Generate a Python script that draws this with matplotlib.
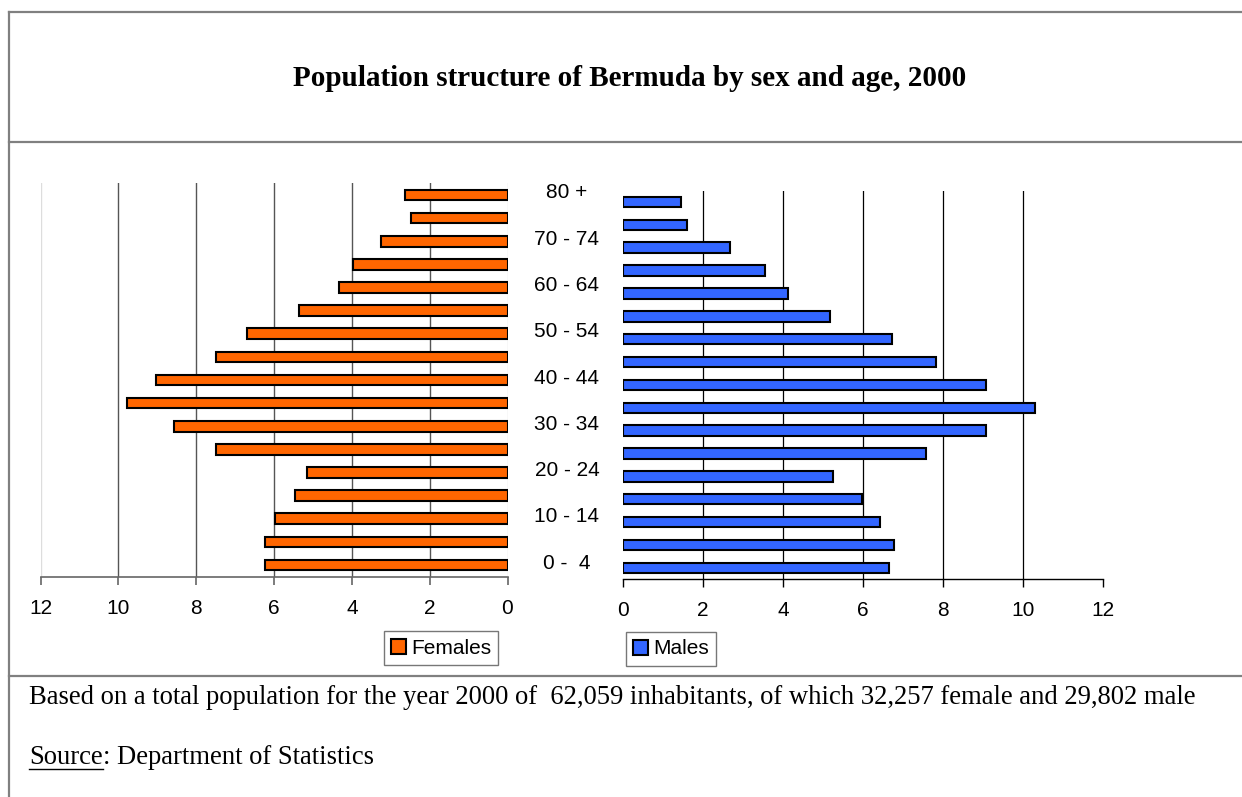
import matplotlib
matplotlib.use("Agg")
import matplotlib.pyplot as plt
import matplotlib.transforms as mtransforms
from matplotlib.lines import Line2D
from matplotlib.patches import Patch

# ---------------- data ----------------
age_groups = ["0 -  4", "5 - 9", "10 - 14", "15 - 19", "20 - 24", "25 - 29",
              "30 - 34", "35 - 39", "40 - 44", "45 - 49", "50 - 54", "55 - 59",
              "60 - 64", "65 - 69", "70 - 74", "75 - 79", "80 +"]
females = [6.24, 6.24, 5.98, 5.47, 5.16, 7.48, 8.56, 9.78, 9.02, 7.48,
           6.70, 5.37, 4.34, 3.98, 3.26, 2.49, 2.64]
males = [6.65, 6.77, 6.41, 5.97, 5.24, 7.56, 9.08, 10.31, 9.08, 7.83,
         6.71, 5.18, 4.13, 3.55, 2.68, 1.60, 1.44]
x_ticks = [0, 2, 4, 6, 8, 10, 12]
title = "Population structure of Bermuda by sex and age, 2000"
note = ("Based on a total population for the year 2000 of  62,059 inhabitants, "
        "of which 32,257 female and 29,802 male")

W, H = 1242, 797
fig = plt.figure(figsize=(W / 100, H / 100), dpi=100)

def fx(px):
    return px / W

def fy(py):
    return 1 - py / H

sans = "Liberation Sans"
serif = "Liberation Serif"
FS = 15
SERIF_FS = 19.2
ORANGE = "#FF6600"
BLUE = "#3366FF"
ypos = list(range(len(age_groups)))

# ---------------- left (females) ----------------
axL = fig.add_axes([fx(40.5), fy(576.6), fx(507.5) - fx(40.5), fy(183.4) - fy(576.6)])
axL.barh(ypos, females, height=0.46, color=ORANGE, edgecolor="black", linewidth=1.5, zorder=3)
axL.set_xlim(12, 0)
axL.set_ylim(-0.5, len(age_groups) - 0.5)
for v in x_ticks:
    c = "#dddddd" if v in (0, 12) else "#555555"
    axL.axvline(v, color=c, lw=1.0, zorder=1)
axL.set_xticks(x_ticks)
axL.set_yticks([])
for s in ["top", "right", "left"]:
    axL.spines[s].set_visible(False)
axL.spines["bottom"].set_color("#666666")
axL.spines["bottom"].set_linewidth(1.2)
axL.tick_params(axis="x", direction="out", length=6, width=1.2, color="#666666",
                pad=10, labelsize=FS)
for t in axL.get_xticklabels():
    t.set_fontfamily(sans)

# ---------------- right (males) ----------------
axR = fig.add_axes([fx(623.3), fy(579.2), fx(1103) - fx(623.3), fy(190.6) - fy(579.2)])
axR.barh(ypos, males, height=0.46, color=BLUE, edgecolor="black", linewidth=1.5, zorder=3)
axR.set_xlim(0, 12)
axR.set_ylim(-0.5, len(age_groups) - 0.5)
for v in x_ticks[1:-1]:
    axR.axvline(v, color="black", lw=0.9, zorder=1)
axR.set_xticks(x_ticks)
axR.set_yticks([])
for s in ["top", "right", "left"]:
    axR.spines[s].set_visible(False)
axR.spines["bottom"].set_color("black")
axR.spines["bottom"].set_linewidth(1.0)
axR.tick_params(axis="x", direction="out", length=6, width=1.0, color="black",
                pad=10, labelsize=FS)
for t in axR.get_xticklabels():
    t.set_fontfamily(sans)

# ---------------- age labels ----------------
trans = mtransforms.blended_transform_factory(fig.transFigure, axL.transData)
trans = mtransforms.offset_copy(trans, fig=fig, x=0, y=2, units="dots")
for i, lab in enumerate(age_groups):
    if i % 2 == 0:
        fig.text(fx(567), i, lab, transform=trans, ha="center", va="center",
                 fontsize=FS, fontfamily=sans)

# ---------------- legends ----------------
legF = fig.legend(handles=[Patch(facecolor=ORANGE, edgecolor="black", linewidth=1.5)],
                  labels=["Females"], loc="center",
                  bbox_to_anchor=(fx(441), fy(648)), bbox_transform=fig.transFigure,
                  fancybox=False, framealpha=1, edgecolor="#777777",
                  prop={"family": sans, "size": FS},
                  handlelength=0.7, handleheight=0.7, handletextpad=0.25,
                  borderpad=0.35, borderaxespad=0)
legF.get_frame().set_linewidth(1.0)
legM = fig.legend(handles=[Patch(facecolor=BLUE, edgecolor="black", linewidth=1.5)],
                  labels=["Males"], loc="center",
                  bbox_to_anchor=(fx(671), fy(649)), bbox_transform=fig.transFigure,
                  fancybox=False, framealpha=1, edgecolor="#777777",
                  prop={"family": sans, "size": FS},
                  handlelength=0.7, handleheight=0.7, handletextpad=0.25,
                  borderpad=0.35, borderaxespad=0)
legM.get_frame().set_linewidth(1.0)

# ---------------- frame lines ----------------
frame_c = "#808080"
for py in (12, 142, 676):
    fig.add_artist(Line2D([fx(9), 1.0], [fy(py), fy(py)], color=frame_c, lw=1.6,
                          transform=fig.transFigure))
fig.add_artist(Line2D([fx(9), fx(9)], [fy(12), 0.0], color=frame_c, lw=1.6,
                      transform=fig.transFigure))

# ---------------- texts ----------------
fig.text(fx(630), fy(78), title, ha="center", va="center", fontsize=21,
         fontweight="bold", fontfamily=serif)
fig.text(fx(29), fy(697), note, ha="left", va="center", fontsize=SERIF_FS, fontfamily=serif)
src = fig.text(fx(29), fy(758), "Source", ha="left", va="center", fontsize=SERIF_FS,
               fontfamily=serif)
fig.canvas.draw()
bb = src.get_window_extent(renderer=fig.canvas.get_renderer())
fig.text(bb.x1 / W, fy(758), ": Department of Statistics", ha="left", va="center",
         fontsize=SERIF_FS, fontfamily=serif)
uy = (bb.y0 + 2) / H
fig.add_artist(Line2D([bb.x0 / W, bb.x1 / W], [uy, uy], color="black", lw=1.0,
                      transform=fig.transFigure))

fig.savefig("out.png", dpi=100)
